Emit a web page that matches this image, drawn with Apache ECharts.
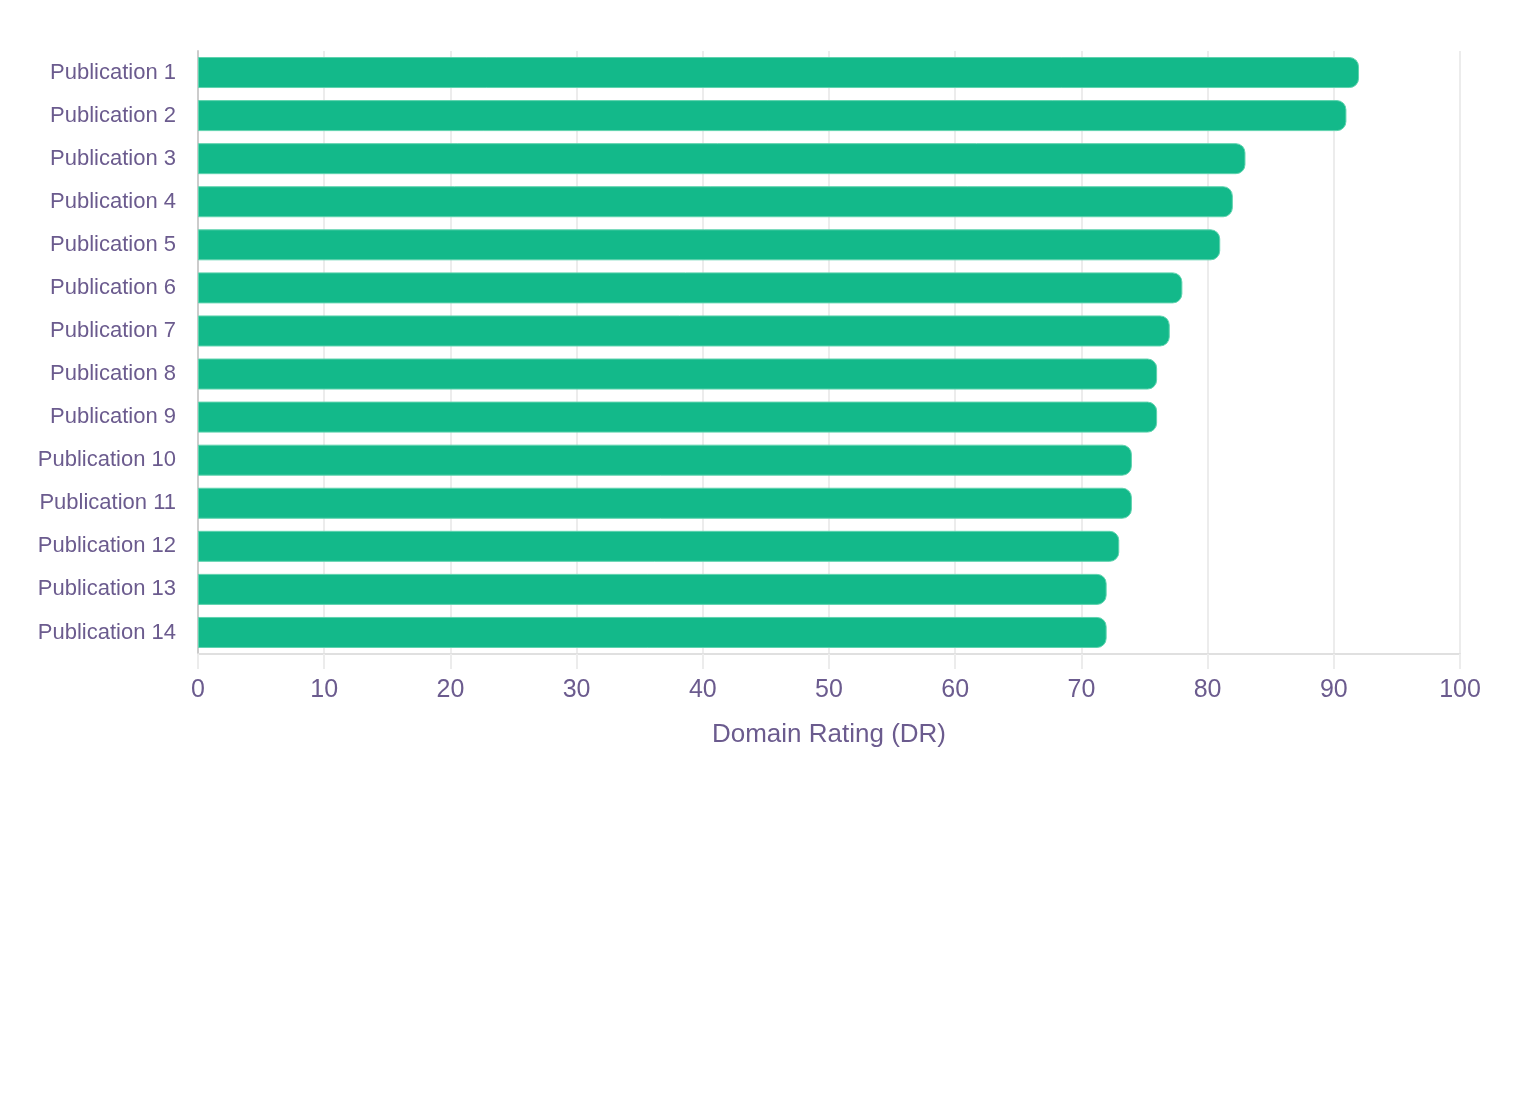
<!DOCTYPE html>
<html>
<head>
<meta charset="utf-8">
<script src="https://cdn.jsdelivr.net/npm/echarts@6/dist/echarts.min.js"></script>
<style>
html, body { margin: 0; padding: 0; background: #fff; }
#chart { width: 1520px; height: 1120px; }
</style>
</head>
<body>
<div id="chart"></div>
<script>
// publications, top to bottom
var publications = ['Publication 1', 'Publication 2', 'Publication 3', 'Publication 4', 'Publication 5',
  'Publication 6', 'Publication 7', 'Publication 8', 'Publication 9', 'Publication 10',
  'Publication 11', 'Publication 12', 'Publication 13', 'Publication 14'];
var ratings = [92, 91, 83, 82, 81, 78, 77, 76, 76, 74, 74, 73, 72, 72];
var xTicks = [0, 10, 20, 30, 40, 50, 60, 70, 80, 90, 100];

var textColor = '#6b5b8e';
var myChart = echarts.init(document.getElementById('chart'));
var option = {
  animation: false,
  grid: { left: 198, right: 60, top: 51, bottom: 466 },
  xAxis: {
    type: 'value',
    min: xTicks[0],
    max: xTicks[xTicks.length - 1],
    interval: 10,
    name: 'Domain Rating (DR)',
    nameLocation: 'middle',
    nameGap: 68,
    nameTextStyle: { color: textColor, fontSize: 26, fontFamily: 'Liberation Sans' },
    axisLine: { show: true, lineStyle: { color: '#e0e0e0', width: 2 } },
    axisTick: { show: true, length: 15, lineStyle: { color: '#ececec', width: 2 } },
    axisLabel: { color: textColor, fontSize: 25, margin: 24, fontFamily: 'Liberation Sans' },
    splitLine: { show: true, lineStyle: { color: '#ececec', width: 2 } }
  },
  yAxis: {
    type: 'category',
    data: publications,
    inverse: true,
    axisLine: { show: true, lineStyle: { color: '#cccccc', width: 2 } },
    axisTick: { show: false },
    axisLabel: { color: textColor, fontSize: 22, margin: 22, fontFamily: 'Liberation Sans' }
  },
  series: [{
    type: 'bar',
    data: ratings,
    barWidth: '72%',
    itemStyle: {
      color: '#13b98a',
      borderColor: '#5fd3ae',
      borderWidth: 1,
      borderRadius: [0, 9, 9, 0]
    }
  }]
};
myChart.setOption(option);
</script>
</body>
</html>
